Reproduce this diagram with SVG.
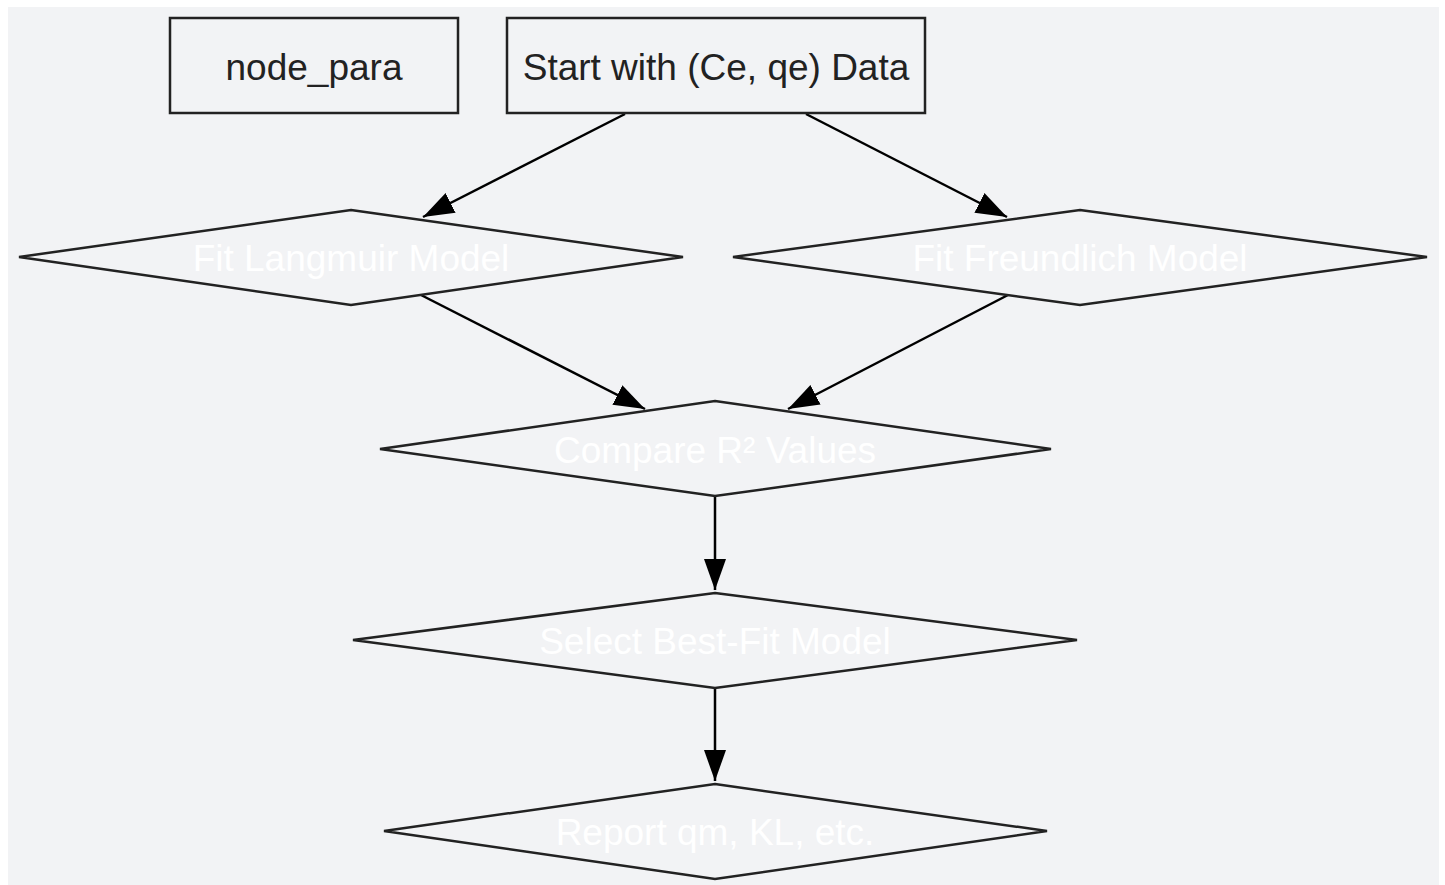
<svg xmlns="http://www.w3.org/2000/svg" width="1445" height="885" viewBox="0 0 1445 885">
<style>
.bg{fill:#f2f3f5}
.box{fill:#f2f3f5;stroke:#222;stroke-width:2.5}
.dia{fill:#f2f3f5;stroke:#222;stroke-width:2.5}
.lbl{font-family:"Liberation Sans",Arial,sans-serif;font-size:37px;text-anchor:middle;fill:#222}
.wl{font-family:"Liberation Sans",Arial,sans-serif;font-size:37px;text-anchor:middle;fill:#ffffff}
.edge{fill:none;stroke:#000;stroke-width:2.5}
</style>
<defs>
<marker id="ah" markerUnits="userSpaceOnUse" markerWidth="32" markerHeight="24" viewBox="0 0 32 24" refX="31" refY="12" orient="auto">
<path d="M0,1 L31,12 L0,23 z" fill="#000"/>
</marker>
</defs>
<rect x="0" y="0" width="1445" height="885" fill="#ffffff"/>
<rect class="bg" x="8" y="7" width="1431" height="878"/>
<g id="connectors">
<line class="edge" x1="625" y1="114" x2="423" y2="217" marker-end="url(#ah)"/>
<line class="edge" x1="806" y1="114" x2="1007" y2="217" marker-end="url(#ah)"/>
<line class="edge" x1="421" y1="295" x2="645" y2="409" marker-end="url(#ah)"/>
<line class="edge" x1="1008" y1="295" x2="788" y2="409" marker-end="url(#ah)"/>
<line class="edge" x1="715" y1="496" x2="715" y2="590" marker-end="url(#ah)"/>
<line class="edge" x1="715" y1="688" x2="715" y2="781" marker-end="url(#ah)"/>
</g>
<g id="node_para">
<rect class="box" x="170" y="18" width="288" height="95"/>
<text class="lbl" x="314" y="80">node_para</text>
</g>
<g id="start">
<rect class="box" x="507" y="18" width="418" height="95"/>
<text class="lbl" x="716" y="80">Start with (Ce, qe) Data</text>
</g>
<g id="langmuir">
<polygon class="dia" points="351,210 683,257 351,305 19,257"/>
<text class="wl" x="351" y="271">Fit Langmuir Model</text>
</g>
<g id="freundlich">
<polygon class="dia" points="1080,210 1427,257 1080,305 733,257"/>
<text class="wl" x="1080" y="271">Fit Freundlich Model</text>
</g>
<g id="compare">
<polygon class="dia" points="715,401 1051,449 715,496 380,449"/>
<text class="wl" x="715" y="463">Compare R² Values</text>
</g>
<g id="select">
<polygon class="dia" points="715,593 1077,640 715,688 353,640"/>
<text class="wl" x="715" y="654">Select Best-Fit Model</text>
</g>
<g id="report">
<polygon class="dia" points="715,784 1047,831 715,879 384,831"/>
<text class="wl" x="715" y="845">Report qm, KL, etc.</text>
</g>
</svg>
